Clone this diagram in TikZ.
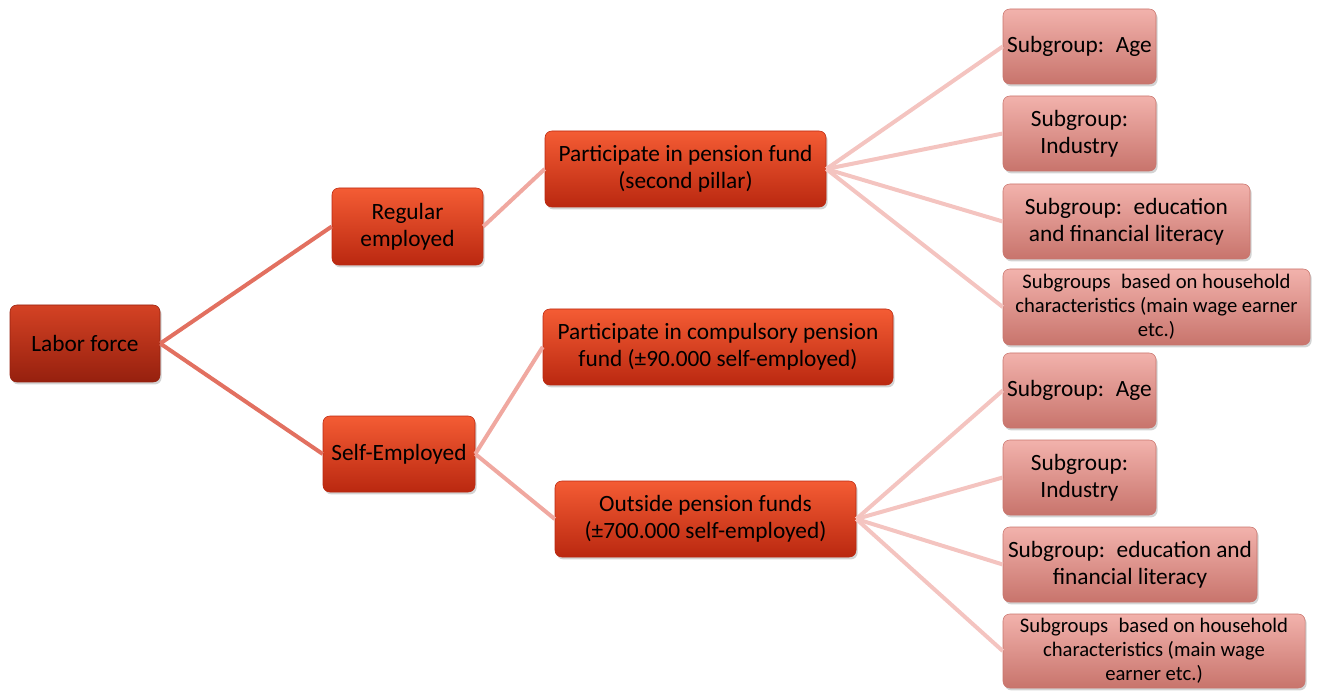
\documentclass[tikz,border=0pt]{standalone}
\usepackage{fontspec}
\setmainfont{Carlito}
\usetikzlibrary{positioning,shadows}

\definecolor{rootTop}{RGB}{212,66,36}
\definecolor{rootMid}{RGB}{196,52,26}
\definecolor{rootBot}{RGB}{150,32,14}
\definecolor{midTop}{RGB}{244,92,52}
\definecolor{midMid}{RGB}{228,62,28}
\definecolor{midBot}{RGB}{186,40,16}
\definecolor{subTop}{RGB}{242,178,172}
\definecolor{subMid}{RGB}{230,146,138}
\definecolor{subBot}{RGB}{200,116,108}
\definecolor{lineA}{RGB}{226,112,96}
\definecolor{lineB}{RGB}{240,168,160}
\definecolor{lineC}{RGB}{244,196,192}

\tikzset{
	box/.style={rounded corners=5pt, align=center, inner sep=2pt, font=\fontsize{17.5}{20.5}\selectfont,
		drop shadow={shadow xshift=1.2pt, shadow yshift=-1.8pt, opacity=0.35}},
	rootbox/.style={box, top color=rootTop, middle color=rootMid, bottom color=rootBot, draw=rootBot, line width=0.4pt},
	midbox/.style={box, top color=midTop, middle color=midMid, bottom color=midBot, draw=midBot, line width=0.4pt},
	subbox/.style={box, top color=subTop, middle color=subMid, bottom color=subBot, draw=subBot, line width=0.4pt},
	smallbox/.style={subbox, font=\fontsize{15.5}{18}\selectfont},
	linkA/.style={line width=3pt, color=lineA},
	linkB/.style={line width=3pt, color=lineB},
	linkC/.style={line width=3pt, color=lineC},
}

\begin{document}
\begin{tikzpicture}[x=0.75pt,y=-0.75pt]
		\useasboundingbox (0,0) rectangle (1324,691);
		% first two levels
		\node[rootbox, minimum width=112.5pt, minimum height=57.75pt] (labor) at (85,343.5) {Labor force};
		\node[midbox, minimum width=113.25pt, minimum height=57.75pt] (regular) at (407.5,226.5) {Regular\\employed};
		\node[midbox, minimum width=114pt, minimum height=57pt] (self) at (399,454) {Self-Employed};
		\node[midbox, minimum width=210.75pt, minimum height=57pt] (pension) at (685.5,169) {Participate in pension fund\\(second pillar)};
		\node[midbox, minimum width=262.5pt, minimum height=57pt] (compulsory) at (718,347) {Participate in compulsory pension\\fund (±90.000 self-employed)};
		\node[midbox, minimum width=225.75pt, minimum height=57pt] (outside) at (705.5,519) {Outside pension funds\\(±700.000 self-employed)};

		% subgroups of the pension fund participants
		\node[subbox, minimum width=114.75pt, minimum height=56.25pt] (ageA) at (1079.5,46.5) {Subgroup:\enspace Age};
		\node[subbox, minimum width=114.75pt, minimum height=56.25pt] (indA) at (1079.5,133.5) {Subgroup:\\Industry};
		\node[subbox, minimum width=185.25pt, minimum height=56.25pt] (eduA) at (1126.5,221.5) {Subgroup:\enspace education\\and financial literacy};
		\node[smallbox, minimum width=230.25pt, minimum height=57pt] (hhA) at (1156.5,307) {Subgroups\enspace based on household\\characteristics (main wage earner\\etc.)};

		% subgroups of the self-employed outside pension funds
		\node[subbox, minimum width=114.75pt, minimum height=56.25pt] (ageB) at (1079.5,390.5) {Subgroup:\enspace Age};
		\node[subbox, minimum width=114.75pt, minimum height=56.25pt] (indB) at (1079.5,477.5) {Subgroup:\\Industry};
		\node[subbox, minimum width=190.5pt, minimum height=56.25pt] (eduB) at (1130,564.5) {Subgroup:\enspace education and\\financial literacy};
		\node[smallbox, minimum width=226.5pt, minimum height=55.5pt] (hhB) at (1154,651) {Subgroups\enspace based on household\\characteristics (main wage\\earner etc.)};

		\draw[linkA] (labor.east)--(regular.west);
		\draw[linkA] (labor.east)--(self.west);
		\draw[linkB] (regular.east)--(pension.west);
		\draw[linkB] (self.east)--(compulsory.west);
		\draw[linkB] (self.east)--(outside.west);
		\foreach \s in {ageA,indA,eduA,hhA}
			\draw[linkC] (pension.east)--(\s.west);
		\foreach \s in {ageB,indB,eduB,hhB}
			\draw[linkC] (outside.east)--(\s.west);
	\end{tikzpicture}
\end{document}
